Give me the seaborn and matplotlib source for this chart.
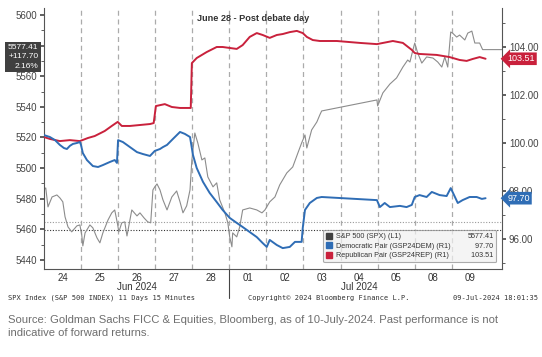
import matplotlib
matplotlib.use("Agg")
import matplotlib.pyplot as plt
import matplotlib.transforms as mtransforms
import seaborn as sns
from matplotlib.patches import Patch
from matplotlib.ticker import MultipleLocator, FormatStrFormatter

# trading sessions on the x axis, one unit per session
day_labels = ["24", "25", "26", "27", "28", "01", "02", "03", "04", "05", "08", "09"]
month_labels = ["Jun 2024", "Jul 2024"]
month_centers = [2.5, 8.5]
month_break = 5

# S&P 500 (left axis), 15 min bars
spx_t = [0.00, 0.05, 0.11, 0.22, 0.35, 0.43, 0.51, 0.57, 0.65, 0.75,
         0.89, 0.97, 1.02, 1.05, 1.11, 1.24, 1.32, 1.43, 1.51, 1.59,
         1.73, 1.83, 1.91, 1.99, 2.02, 2.10, 2.18, 2.24, 2.37, 2.51,
         2.59, 2.70, 2.80, 2.88, 2.94, 2.99, 3.05, 3.13, 3.21, 3.32,
         3.45, 3.58, 3.67, 3.75, 3.85, 3.94, 3.99, 4.07, 4.15, 4.26,
         4.34, 4.42, 4.56, 4.66, 4.74, 4.88, 4.96, 5.01, 5.07, 5.09,
         5.20, 5.28, 5.36, 5.55, 5.74, 5.88, 5.96, 6.09, 6.23, 6.36,
         6.55, 6.71, 6.85, 6.95, 7.04, 7.09, 7.22, 7.36, 7.44, 7.49,
         8.98, 9.00, 9.14, 9.33, 9.51, 9.68, 9.81, 9.87, 9.95, 10.00,
         10.08, 10.19, 10.32, 10.49, 10.62, 10.73, 10.81, 10.89, 10.97, 11.02,
         11.13, 11.21, 11.35, 11.43, 11.54, 11.62, 11.75, 11.83, 12.35]
spx_v = [5485.7, 5487.0, 5474.6, 5481.1, 5482.4, 5480.5, 5477.9, 5468.1, 5461.5, 5458.3,
         5462.2, 5462.8, 5456.3, 5449.1, 5457.6, 5462.8, 5460.9, 5454.4, 5451.1, 5457.6,
         5466.1, 5470.7, 5472.6, 5462.8, 5458.3, 5464.2, 5464.8, 5455.6, 5472.6, 5468.7,
         5470.7, 5467.4, 5464.8, 5464.2, 5485.7, 5487.7, 5489.6, 5485.7, 5479.2, 5472.6,
         5481.1, 5485.0, 5477.9, 5470.7, 5475.3, 5485.7, 5505.3, 5522.9, 5516.4, 5505.3,
         5506.6, 5494.2, 5487.7, 5490.3, 5479.2, 5470.7, 5464.2, 5455.0, 5448.5, 5457.6,
         5455.0, 5461.5, 5472.6, 5473.9, 5472.6, 5470.7, 5472.6, 5477.9, 5481.1, 5489.0,
         5496.8, 5500.7, 5509.9, 5516.4, 5521.6, 5513.1, 5524.9, 5530.1, 5534.7, 5537.3,
         5544.5, 5540.6, 5549.1, 5554.9, 5558.9, 5566.0, 5570.6, 5569.3, 5577.1, 5581.7,
         5575.2, 5568.6, 5572.6, 5571.9, 5569.3, 5566.0, 5572.6, 5566.0, 5588.9, 5588.2,
         5585.6, 5586.9, 5583.7, 5588.2, 5589.5, 5581.7, 5581.7, 5577.4, 5577.4]

# Democratic pair (right axis)
dem_t = [0.00, 0.16, 0.30, 0.43, 0.54, 0.62, 0.70, 0.78, 0.89, 0.97,
         1.00, 1.05, 1.16, 1.32, 1.46, 1.59, 1.78, 1.91, 1.97, 2.00,
         2.13, 2.32, 2.51, 2.67, 2.86, 2.99, 3.13, 3.21, 3.32, 3.48,
         3.67, 3.80, 3.94, 4.02, 4.12, 4.29, 4.47, 4.66, 4.82, 5.01,
         5.20, 5.36, 5.55, 5.74, 5.90, 6.01, 6.09, 6.28, 6.44, 6.63,
         6.77, 6.95, 6.98, 7.04, 7.17, 7.36, 7.49, 8.98, 9.06, 9.19,
         9.33, 9.60, 9.78, 9.92, 10.00, 10.13, 10.32, 10.46, 10.67, 10.86,
         10.97, 11.02, 11.16, 11.29, 11.48, 11.67, 11.81, 11.91]
dem_v = [100.33, 100.25, 100.12, 99.92, 99.79, 99.75, 99.88, 99.96, 100.00, 100.04,
         99.92, 99.58, 99.29, 99.04, 99.00, 99.08, 99.21, 99.29, 99.17, 100.12,
         100.04, 99.83, 99.62, 99.54, 99.46, 99.67, 99.75, 99.83, 99.92, 100.17,
         100.46, 100.38, 100.25, 99.50, 98.96, 98.38, 97.92, 97.54, 97.21, 96.88,
         96.67, 96.50, 96.29, 96.08, 95.83, 95.67, 95.96, 95.75, 95.62, 95.67,
         95.88, 95.88, 96.46, 97.21, 97.50, 97.71, 97.75, 97.62, 97.33, 97.50,
         97.33, 97.38, 97.33, 97.42, 97.75, 97.83, 97.75, 97.96, 97.83, 97.79,
         98.12, 97.96, 97.50, 97.62, 97.75, 97.75, 97.67, 97.70]

# Republican pair (right axis)
rep_t = [0.00, 0.16, 0.43, 0.70, 0.97, 1.19, 1.37, 1.64, 1.83, 1.99,
         2.10, 2.32, 2.59, 2.86, 2.96, 3.02, 3.26, 3.45, 3.67, 3.88,
         3.96, 3.99, 4.12, 4.39, 4.66, 4.82, 5.01, 5.20, 5.36, 5.55,
         5.74, 5.90, 6.09, 6.28, 6.44, 6.63, 6.82, 6.98, 7.09, 7.25,
         7.44, 7.90, 8.52, 8.98, 9.41, 9.68, 9.92, 10.00, 10.13, 10.59,
         10.94, 11.21, 11.40, 11.56, 11.75, 11.91]
rep_v = [100.25, 100.17, 100.08, 100.12, 100.08, 100.21, 100.29, 100.50, 100.71, 100.88,
         100.71, 100.71, 100.75, 100.79, 100.83, 101.54, 101.62, 101.50, 101.46, 101.46,
         101.46, 103.33, 103.54, 103.79, 104.00, 104.00, 103.96, 103.92, 104.08, 104.42,
         104.58, 104.50, 104.38, 104.50, 104.54, 104.62, 104.67, 104.58, 104.42, 104.29,
         104.25, 104.25, 104.17, 104.12, 104.25, 104.17, 103.88, 103.75, 103.71, 103.67,
         103.58, 103.46, 103.42, 103.50, 103.58, 103.51]

series_names = ["S&P 500 (SPX) (L1)", "Democratic Pair (GSP24DEM) (R1)",
                "Republican Pair (GSP24REP) (R1)"]
spx_last, spx_chg, spx_pct = 5577.41, 117.70, 2.16
dem_last = 97.70
rep_last = 103.51
aux_level = 5464.8

gray = "#8c8c8c"
blue = "#2f6db5"
red = "#c9213c"

sns.set_style("white")
plt.rcParams["font.family"] = ["Liberation Sans", "DejaVu Sans"]

fig = plt.figure(figsize=(5.42, 3.57), dpi=100)
ax = fig.add_axes([0.081, 0.2465, 0.845, 0.7311])
ax2 = ax.twinx()

#linhas de cada sessao
for i in range(1, len(day_labels)):
    ax.axvline(i, color="#ababab", ls=(0, (4, 3)), lw=0.9, zorder=0)

ax.axhline(aux_level, color="#9a9a9a", ls=(0, (1, 1.5)), lw=0.8, zorder=1)
ax.axhline(spx_last - spx_chg, color="#333333", ls=(0, (1, 1.5)), lw=0.8, zorder=1)

sns.lineplot(x=spx_t, y=spx_v, ax=ax, color=gray, linewidth=0.8,
             estimator=None, sort=False)
sns.lineplot(x=rep_t, y=rep_v, ax=ax2, color=red, linewidth=1.4,
             estimator=None, sort=False)
sns.lineplot(x=dem_t, y=dem_v, ax=ax2, color=blue, linewidth=1.4,
             estimator=None, sort=False)

ax.set_xlim(0, 12.35)
ax.set_ylim(5434, 5604.6)
ax2.set_ylim(94.75, 105.625)
ax.set_xlabel("")
ax.set_ylabel("")
ax2.set_ylabel("")

ax.set_xticks([i + 0.5 for i in range(len(day_labels))], day_labels)
ax.tick_params(axis="x", length=0, labelsize=7, colors="#333333", pad=3)

ax.yaxis.set_major_locator(MultipleLocator(20))
ax.yaxis.set_minor_locator(MultipleLocator(10))
ax2.yaxis.set_major_locator(MultipleLocator(2))
ax2.yaxis.set_minor_locator(MultipleLocator(1))
ax2.yaxis.set_major_formatter(FormatStrFormatter("%.2f"))
for a in (ax, ax2):
    a.tick_params(axis="y", which="major", direction="out", length=3, width=1.2,
                  labelsize=7, colors="#444444", pad=2)
    a.tick_params(axis="y", which="minor", direction="out", length=2, width=0.6,
                  colors="#444444")

# 5580 sits under the last-value box, as in the original
ax.set_yticks([5440, 5460, 5480, 5500, 5520, 5540, 5560, 5580, 5600],
              ["5440", "5460", "5480", "5500", "5520", "5540", "5560", "", "5600"])

for s in ["top", "right"]:
    ax.spines[s].set_visible(False)
for s in ["top", "left", "bottom"]:
    ax2.spines[s].set_visible(False)
for sp in (ax.spines["left"], ax.spines["bottom"], ax2.spines["right"]):
    sp.set_color("#555555")
    sp.set_linewidth(0.8)

ax.text(0.457, 0.958, "June 28 - Post debate day", transform=ax.transAxes,
        ha="center", va="center", fontsize=6.6, fontweight="bold", color="#333333")

tr = mtransforms.blended_transform_factory(ax.transData, ax.transAxes)
for lab, c in zip(month_labels, month_centers):
    ax.text(c, -0.07, lab, transform=tr, ha="center", va="center",
            fontsize=7, color="#333333")
ax.plot([month_break, month_break], [0, -0.11], transform=tr, clip_on=False,
        color="#444444", lw=0.8)

#caixas com o ultimo valor
ax.annotate(f"{spx_last:.2f}\n+{spx_chg:.2f}\n{spx_pct:.2f}%", xy=(0, spx_last),
            xycoords=("axes fraction", "data"), xytext=(-4, 4),
            textcoords="offset points", ha="right", va="top", fontsize=6,
            color="white", linespacing=1.45, annotation_clip=False,
            bbox=dict(boxstyle="square,pad=0.3", fc="#404040", ec="none"))
for val, col in [(rep_last, red), (dem_last, blue)]:
    ax2.annotate(f"{val:.2f}", xy=(1, val), xycoords=("axes fraction", "data"),
                 xytext=(4, 0), textcoords="offset points", ha="left", va="center",
                 fontsize=6.5, color="white", annotation_clip=False,
                 bbox=dict(boxstyle="larrow,pad=0.2", fc=col, ec="none"))

#legenda
handles = [Patch(fc="#404040", ec="#404040"), Patch(fc=blue, ec=blue),
           Patch(fc=red, ec=red)] + [Patch(fc="none", ec="none")] * 3
values = [f"{spx_last:.2f}", f"    {dem_last:.2f}", f"  {rep_last:.2f}"]
leg = ax2.legend(handles, series_names + values, ncol=2, loc="lower right",
                 bbox_to_anchor=(0.996, 0.012), fontsize=5.2, handlelength=0.9,
                 handleheight=0.9, handletextpad=0.5, columnspacing=0.9,
                 labelspacing=0.3, borderpad=0.4, frameon=True, fancybox=True,
                 framealpha=0.7, facecolor="#f0f0f0", edgecolor="#8a8a8a")
leg.get_frame().set_linewidth(0.8)
for t in leg.get_texts():
    t.set_color("#333333")

mono = "DejaVu Sans Mono"
fig.text(0.015, 0.165, "SPX Index (S&P 500 INDEX) 11 Days 15 Minutes", family=mono,
         fontsize=5, color="#333333", va="center")
fig.text(0.458, 0.165, "Copyright\u00a9 2024 Bloomberg Finance L.P.", family=mono,
         fontsize=5, color="#333333", va="center")
fig.text(0.993, 0.165, "09-Jul-2024 18:01:35", family=mono, fontsize=5,
         color="#333333", va="center", ha="right")

fig.text(0.015, 0.104, "Source: Goldman Sachs FICC & Equities, Bloomberg, as of "
         "10-July-2024. Past performance is not", fontsize=8.1, color="#6e6e6e",
         va="center")
fig.text(0.015, 0.067, "indicative of forward returns.", fontsize=8.1,
         color="#6e6e6e", va="center")

fig.savefig("out.png", dpi=100, facecolor="white")
